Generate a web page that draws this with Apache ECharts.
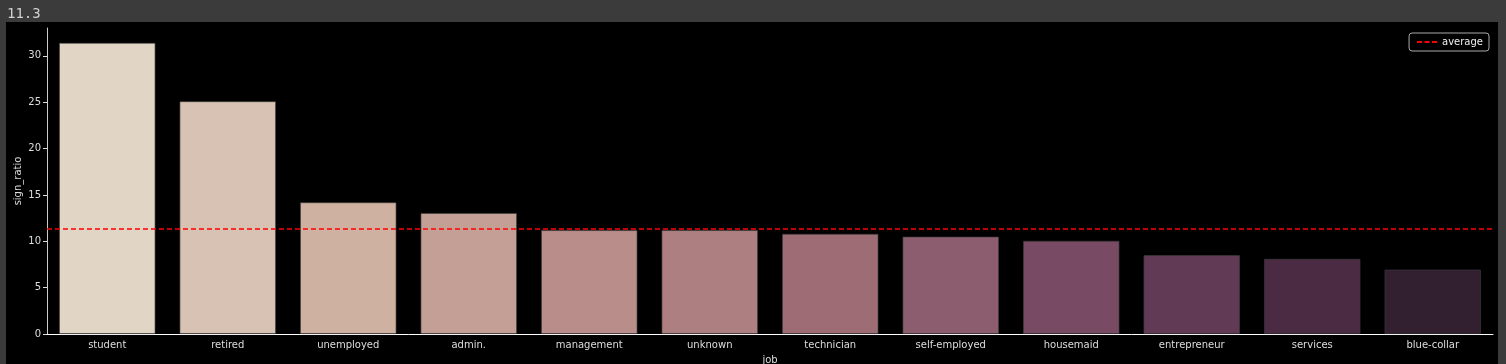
<!DOCTYPE html>
<html>
<head>
<meta charset="utf-8">
<script src="https://cdn.jsdelivr.net/npm/echarts@6/dist/echarts.min.js"></script>
<style>
html,body{margin:0;padding:0;background:#3b3b3b;}
#c{width:1506px;height:364px;}
</style>
</head>
<body>
<div id="c"></div>
<script>
const categories = ['student','retired','unemployed','admin.','management','unknown','technician','self-employed','housemaid','entrepreneur','services','blue-collar'];
const signRatio = [31.4, 25.1, 14.2, 13.05, 11.2, 11.2, 10.8, 10.5, 10.05, 8.5, 8.1, 6.95];
const averageValue = 11.3;
const yTicks = [0, 5, 10, 15, 20, 25, 30];
const palette = ['#e1d5c6','#d7c2b3','#cfb1a2','#c49f95','#b98d89','#ad7f80','#9d6c74','#8c5d6e','#784a63','#613a55','#4b2b44','#321f30'];

const chart = echarts.init(document.getElementById('c'), null, {renderer:'canvas'});
const lab = {color:'#dddddd', fontSize:10, fontFamily:'DejaVu Sans'};
chart.setOption({
  backgroundColor:'#3b3b3b',
  animation:false,
  title:{text:'11.3', left:2, top:2, textStyle:{color:'#d0d0d0', fontSize:14, fontWeight:'normal', fontFamily:'DejaVu Sans Mono'}},
  graphic:[{type:'rect', z:-10, silent:true, shape:{x:6,y:22,width:1492,height:342}, style:{fill:'#000000'}}],
  grid:{left:47, right:13, top:28, bottom:30, containLabel:false, outerBoundsMode:'none'},
  legend:{
    right:17, top:33, orient:'vertical',
    backgroundColor:'#000', borderColor:'#aaaaaa', borderWidth:1, borderRadius:3,
    padding:[4,6,4,8], itemWidth:20, itemHeight:2, itemGap:4,
    textStyle:{color:'#eeeeee', fontSize:10, fontFamily:'DejaVu Sans'},
    data:[{name:'average', icon:'path://M0,0h5v2h-5z M7.5,0h5v2h-5z M15,0h5v2h-5z', itemStyle:{color:'#ff0000'}}]
  },
  xAxis:{
    type:'category', data:categories,
    name:'job', nameLocation:'middle', nameGap:21, nameMoveOverlap:false, nameTextStyle:lab,
    axisLine:{lineStyle:{color:'#ffffff', width:1}},
    axisTick:{alignWithLabel:true, length:4, lineStyle:{color:'#dddddd'}},
    axisLabel:Object.assign({margin:6}, lab),
    splitLine:{show:false}
  },
  yAxis:{
    type:'value', min:0, max:33,
    name:'sign_ratio', nameLocation:'middle', nameGap:24, nameMoveOverlap:false, nameTextStyle:lab,
    axisLine:{show:true, lineStyle:{color:'#cccccc', width:1}},
    axisTick:{show:true, length:4, customValues:yTicks, lineStyle:{color:'#dddddd'}},
    axisLabel:Object.assign({margin:6, customValues:yTicks}, lab),
    splitLine:{show:false}
  },
  series:[
    {
      type:'bar', name:'sign_ratio', barCategoryGap:'20%',
      data:signRatio.map((v,i)=>({value:v, itemStyle:{color:palette[i], borderColor:'rgba(60,60,60,0.8)', borderWidth:0.8}}))
    },
    {
      type:'line', name:'average', data:[], symbol:'none',
      lineStyle:{color:'#ff0000', type:[5,3], width:1.5},
      itemStyle:{color:'#ff0000'},
      markLine:{silent:true, symbol:'none', label:{show:false},
        lineStyle:{color:'#ff0000', type:[5,3], width:1.5},
        data:[{yAxis:averageValue}]}
    }
  ]
});
</script>
</body>
</html>
